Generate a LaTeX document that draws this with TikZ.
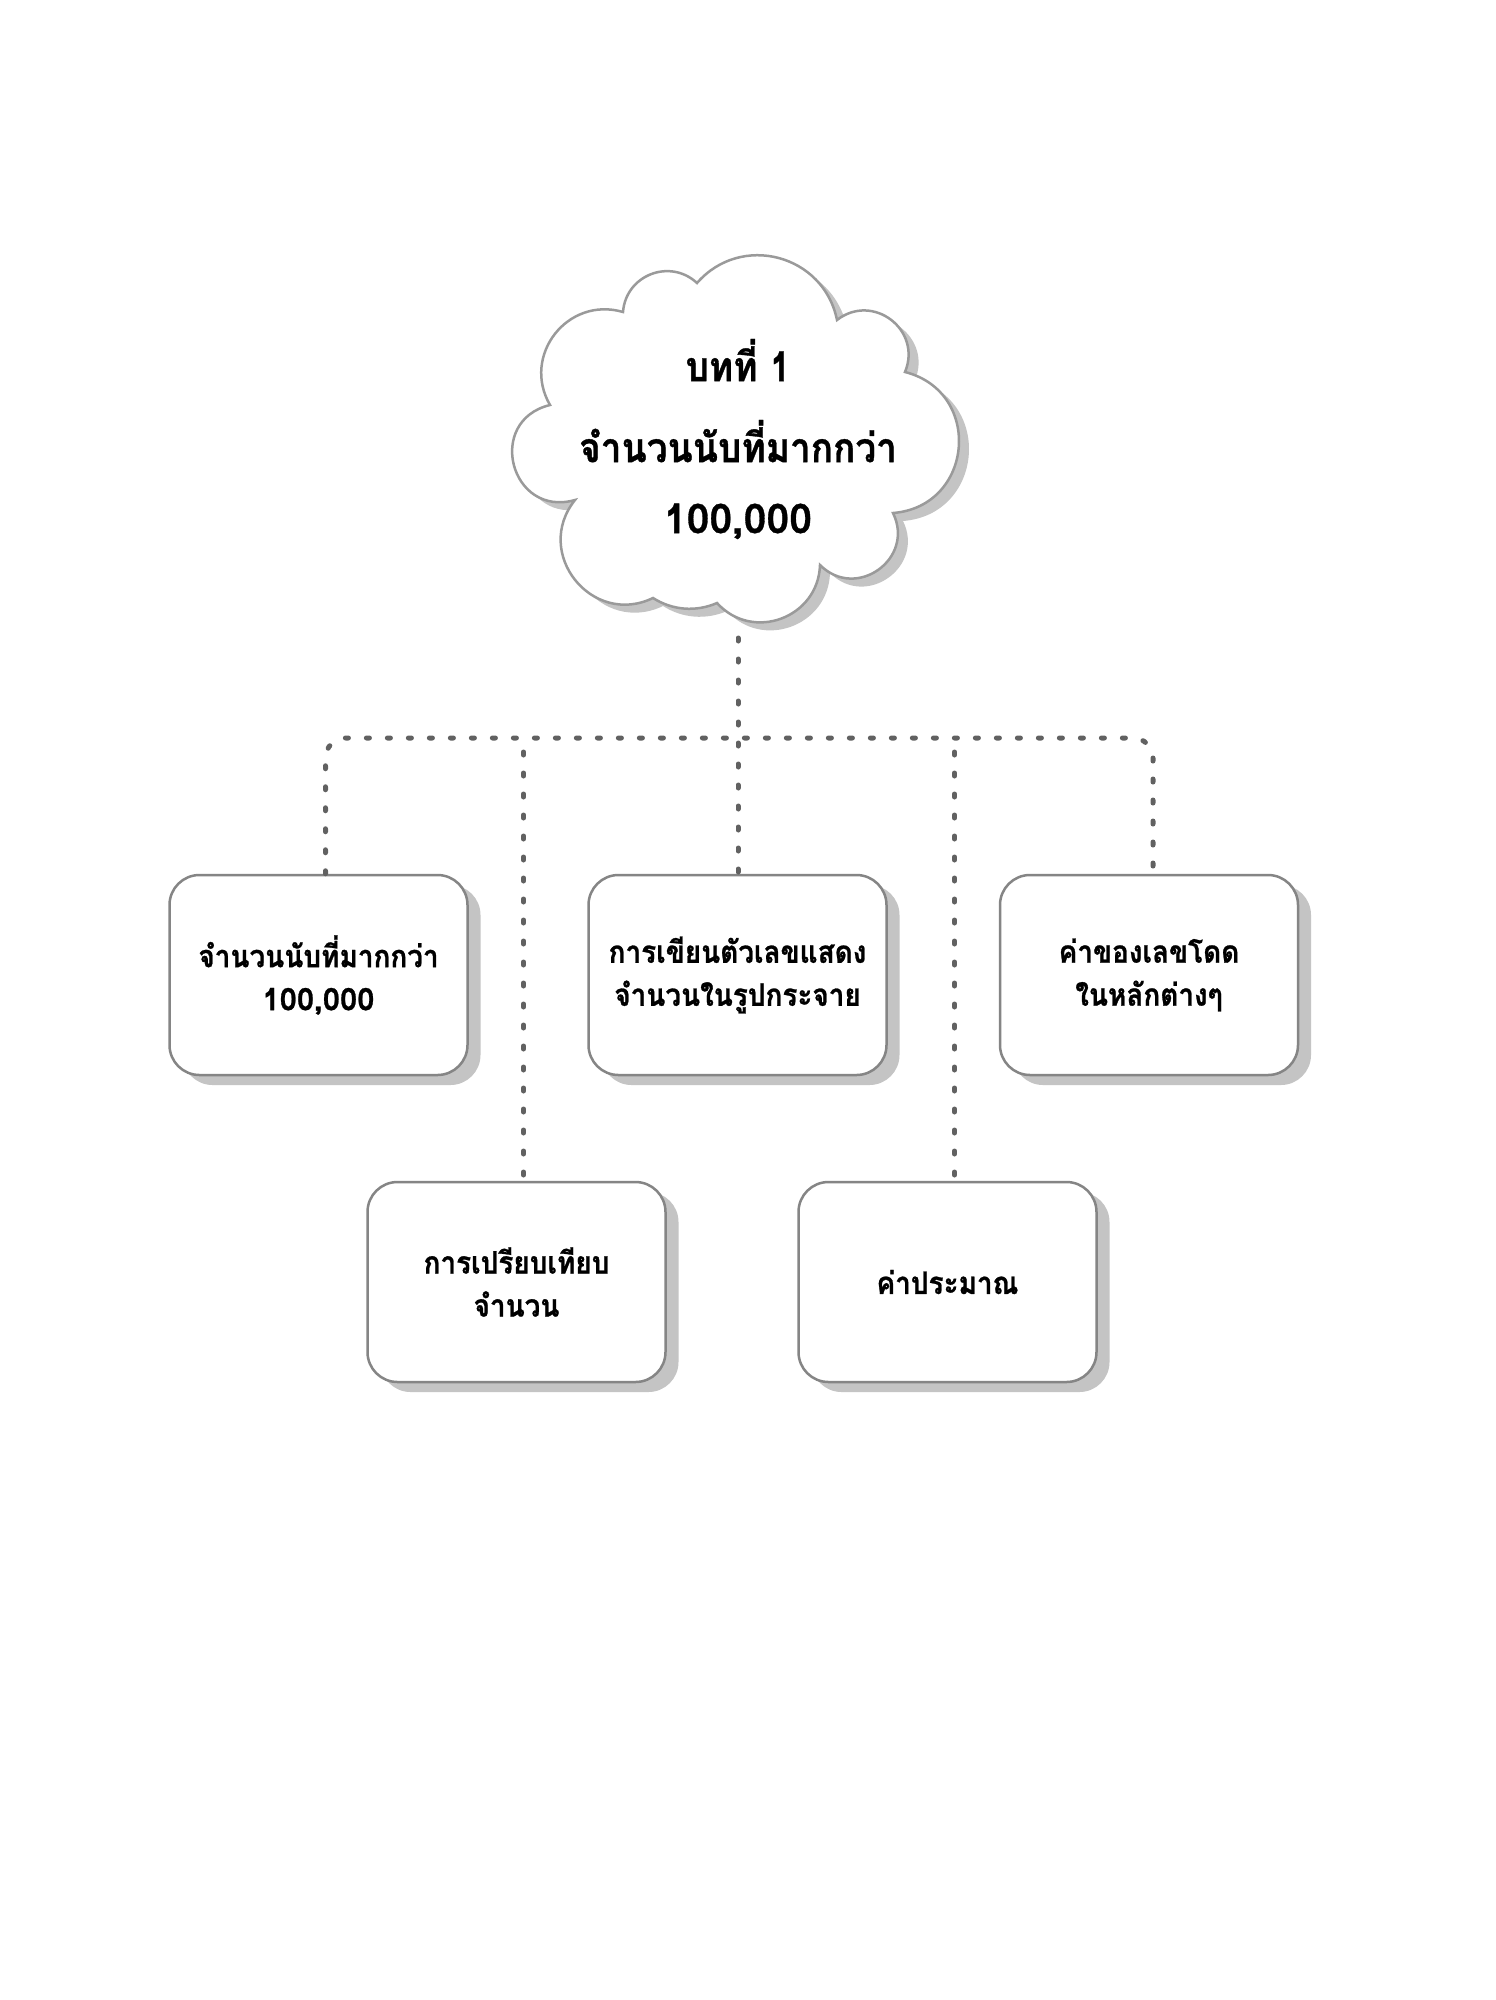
\documentclass[tikz,border=0pt]{standalone}
\usepackage{fontspec}
\newfontfamily\thaifont[Script=Thai,FakeStretch=0.9,BoldFeatures={FakeBold=0.8}]{Loma}
\newfontfamily\numfont[Script=Thai,BoldFeatures={FakeBold=0.8}]{Loma}
\usetikzlibrary{shadows,calc}
\definecolor{dotgray}{HTML}{616161}
\definecolor{edgegray}{HTML}{858585}
\definecolor{cloudgray}{HTML}{9A9A9A}
\definecolor{shadegray}{HTML}{C4C4C4}
\newcommand\boxfont{\thaifont\bfseries\fontsize{31}{43}\selectfont}
\newcommand\boxnum{\numfont\bfseries\fontsize{31}{43}\selectfont}
\newcommand\titlefont{\thaifont\bfseries\fontsize{41}{71}\selectfont}
\newcommand\titlenum{\numfont\bfseries\fontsize{41}{71}\selectfont}
\newcommand\cloudoutline{(550,-405)
 .. controls +(120.1:57.5) and +(163.7:57.5) .. (623,-312)
 .. controls +(85.7:37) and +(137.1:37) .. (697,-283)
 .. controls +(48.9:67) and +(101.5:67) .. (837,-320)
 .. controls +(37.8:45.5) and +(67.4:45.5) .. (905,-372)
 .. controls +(-14.3:81) and +(4.5:81) .. (893,-513)
 .. controls +(296.1:51) and +(314.9:51) .. (820,-565)
 .. controls +(268.2:53) and +(312.2:53) .. (717,-603)
 .. controls +(203.5:23) and +(327.5:23) .. (653,-598)
 .. controls +(205.7:68) and +(231.3:68) .. (575,-500)
 .. controls +(195.7:67) and +(193.7:67) .. (550,-405) -- cycle}
\begin{document}
\begin{tikzpicture}[x=1pt,y=1pt,
  dotline/.style={draw=dotgray,line width=5pt,dash pattern=on 3pt off 18pt,line cap=round},
  card/.style={rectangle,rounded corners=30pt,draw=edgegray,line width=2.5pt,fill=white,
    minimum width=298pt,minimum height=200pt,align=center,font=\boxfont,text=black,
    general shadow={fill=shadegray,draw=none,shadow xshift=13pt,shadow yshift=-10pt}},
  title/.style={align=center,font=\titlefont,text=black}
]
\useasboundingbox (0,0) rectangle (1496,-2000);
\fill[white] (0,0) rectangle (1496,-2000);
% cloud
\fill[shadegray,shift={(10,-8)}] \cloudoutline;
\filldraw[fill=white,draw=cloudgray,line width=2.5pt] \cloudoutline;
\node[title] (cloud) at (738,-439) {บทที่ 1\\[10pt]จำนวนนับที่มากกว่า\\{\titlenum 100,000}};
\coordinate (cloudbot) at (738,-638);
\coordinate (hy) at (0,-738);
% boxes
\node[card] (b1) at (318.5,-975) {จำนวนนับที่มากกว่า\\{\boxnum 100,000}};
\node[card] (b2) at (737.5,-975) {การเขียนตัวเลขแสดง\\จำนวนในรูปกระจาย};
\node[card] (b3) at (1149,-975) {ค่าของเลขโดด\\ในหลักต่างๆ};
\node[card] (b4) at (516.5,-1282) {การเปรียบเทียบ\\จำนวน};
\node[card] (b5) at (947.5,-1282) {ค่าประมาณ};
% connectors
\draw[dotline] (cloudbot) -- (b2.north -| cloudbot);
\draw[dotline,rounded corners=20pt] ($(b1.north)+(7,0)$) |- ($(hy -| b3.north)+(4,0)$) -- ($(b3.north)+(4,0)$);
\draw[dotline] ($(b4.north |- hy)+(7,-14)$) -- ($(b4.north)+(7,0)$);
\draw[dotline] ($(b5.north |- hy)+(7,-14)$) -- ($(b5.north)+(7,0)$);
\end{tikzpicture}
\end{document}
